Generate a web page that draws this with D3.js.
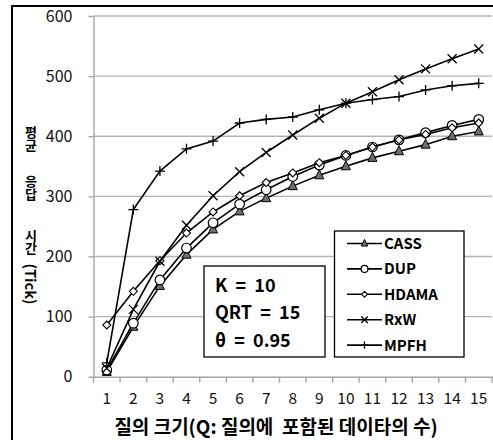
<!DOCTYPE html>
<html><head><meta charset="utf-8">
<script src="https://cdn.jsdelivr.net/npm/d3@7"></script>
<style>
html,body{margin:0;padding:0;background:#fff;}
svg{display:block;}
text{font-family:"Noto Sans CJK KR","Noto Sans",sans-serif;}
.vt{writing-mode:vertical-rl;text-orientation:upright;}
</style></head>
<body>
<svg id="chart" width="493" height="440"></svg>
<script>
const categories = [1,2,3,4,5,6,7,8,9,10,11,12,13,14,15];
const CASS  = [8, 83, 151, 203, 245, 275, 297, 317, 335, 350, 364, 375, 386, 400, 408];
const DUP   = [11, 89, 161, 214, 256, 287, 311, 333, 352, 368, 382, 394, 406, 418, 428];
const HDAMA = [86, 142, 193, 239, 274, 301, 323, 339, 356, 368, 382, 394, 403, 414, 422];
const RxW   = [14, 112, 192, 252, 301, 341, 373, 402, 430, 455, 474, 494, 512, 529, 545];
const MPFH  = [23, 278, 342, 379, 392, 422, 428, 432, 444, 455, 461, 466, 477, 484, 488];
const seriesNames = ["CASS","DUP","HDAMA","RxW","MPFH"];
const yTicks = [0,100,200,300,400,500,600];
const xTitle = "질의 크기(Q: 질의에  포함된 데이타의 수)";
const yTitleWords = ["평균","응답","시간"];
const yTitleUnit = "(Tick)";
const noteLines = ["K  =  10","QRT  =  15","θ  =  0.95"];

const series = [
  {name:"CASS", values:CASS, marker:"triangle"},
  {name:"DUP", values:DUP, marker:"circle"},
  {name:"HDAMA", values:HDAMA, marker:"diamond"},
  {name:"RxW", values:RxW, marker:"x"},
  {name:"MPFH", values:MPFH, marker:"plus"}
];

const svg = d3.select("#chart");
const pLeft = 93.5, pRight = 492, pTop = 16, pBottom = 376.7;

// outer border
svg.append("rect").attr("x",12).attr("y",6).attr("width",520).attr("height",480)
  .attr("fill","none").attr("stroke","#000").attr("stroke-width",2);

const x = d3.scaleBand().domain(categories).range([pLeft,pRight]);
const y = d3.scaleLinear().domain([0,600]).range([pBottom,pTop]);

// gridlines
svg.append("g").selectAll("line").data(yTicks.filter(d=>d>0)).join("line")
  .attr("x1",pLeft).attr("x2",pRight).attr("y1",d=>y(d)).attr("y2",d=>y(d))
  .attr("stroke","#b3b3b3").attr("stroke-width",1.4);

// y axis
const yAxis = svg.append("g").attr("transform",`translate(${pLeft},0)`)
  .call(d3.axisLeft(y).tickValues(yTicks).tickSize(5).tickPadding(16).tickSizeOuter(0));
yAxis.select(".domain").attr("stroke","#a6a6a6").attr("stroke-width",1.4);
yAxis.selectAll(".tick line").attr("stroke","#a6a6a6").attr("stroke-width",1.4);
yAxis.selectAll(".tick text").attr("font-size",16).attr("fill","#111")
  .attr("font-family","'Noto Sans CJK KR',sans-serif");

// x axis
const xAxis = svg.append("g").attr("transform",`translate(0,${pBottom})`)
  .call(d3.axisBottom(x).tickSize(0).tickPadding(16));
xAxis.select(".domain").attr("stroke","#a6a6a6").attr("stroke-width",1.4);
xAxis.selectAll(".tick text").attr("font-size",15.5).attr("fill","#111")
  .attr("font-family","'Noto Sans CJK KR',sans-serif");
// x tick marks at band boundaries
const bounds = categories.map(c=>x(c)).concat([x(categories[categories.length-1])+x.bandwidth()]);
svg.append("g").selectAll("line").data(bounds).join("line")
  .attr("x1",d=>d).attr("x2",d=>d).attr("y1",pBottom).attr("y2",pBottom+6)
  .attr("stroke","#a6a6a6").attr("stroke-width",1.4);

// axis titles
svg.append("text").attr("x",276).attr("y",434).attr("text-anchor","middle")
  .attr("font-size",19).attr("font-weight","bold")
  .attr("xml:space","preserve").style("white-space","pre").text(xTitle);

// y title: Korean words set vertically (upright), "(Tick)" rotated clockwise
const wordCenters = [139, 187.5, 241.5];
yTitleWords.forEach((w,i)=>{
  svg.append("text").attr("class","vt").attr("x",31).attr("y",wordCenters[i])
    .attr("text-anchor","middle")
    .attr("font-size",13).attr("font-weight","bold").text(w);
});
svg.append("text").attr("transform","translate(31,284) rotate(90)")
  .attr("text-anchor","middle").attr("dominant-baseline","central")
  .attr("font-size",14.5).attr("font-weight","bold").text(yTitleUnit);

// markers
function drawMarker(g, type, cx, cy, s){
  s = s || 1;
  if(type==="triangle"){
    g.append("path").attr("d",`M${cx},${cy-5.5*s}L${cx+4.5*s},${cy+3.5*s}L${cx-4.5*s},${cy+3.5*s}Z`)
      .attr("fill","#6e6e6e").attr("stroke","#000").attr("stroke-width",1);
  } else if(type==="circle"){
    g.append("circle").attr("cx",cx).attr("cy",cy).attr("r",4.8*s)
      .attr("fill","#fff").attr("stroke","#000").attr("stroke-width",1.2);
  } else if(type==="diamond"){
    g.append("path").attr("d",`M${cx},${cy-4*s}L${cx+4*s},${cy}L${cx},${cy+4*s}L${cx-4*s},${cy}Z`)
      .attr("fill","#fff").attr("stroke","#000").attr("stroke-width",1.1);
  } else if(type==="x"){
    g.append("path").attr("d",`M${cx-4.5*s},${cy-4.5*s}L${cx+4.5*s},${cy+4.5*s}M${cx-4.5*s},${cy+4.5*s}L${cx+4.5*s},${cy-4.5*s}`)
      .attr("stroke","#000").attr("stroke-width",1.3);
  } else if(type==="plus"){
    g.append("path").attr("d",`M${cx-5*s},${cy}L${cx+5*s},${cy}M${cx},${cy-5*s}L${cx},${cy+5*s}`)
      .attr("stroke","#000").attr("stroke-width",1.3);
  }
}

const line = d3.line().x((d,i)=>x(categories[i])+x.bandwidth()/2).y(d=>y(d));
series.forEach(s=>{
  const g = svg.append("g");
  g.append("path").datum(s.values).attr("d",line)
    .attr("fill","none").attr("stroke","#000").attr("stroke-width",1.6);
  s.values.forEach((v,i)=>drawMarker(g, s.marker, x(categories[i])+x.bandwidth()/2, y(v)));
});

// note box
svg.append("rect").attr("x",204).attr("y",266).attr("width",121).attr("height",91)
  .attr("fill","#fff").attr("stroke","#000").attr("stroke-width",1.3);
noteLines.forEach((t,i)=>{
  svg.append("text").attr("x",215).attr("y",291.5+i*27.5).attr("font-size",18)
    .attr("font-weight","bold").attr("xml:space","preserve").style("white-space","pre").text(t);
});

// legend
svg.append("rect").attr("x",334.5).attr("y",231).attr("width",129.5).attr("height",126)
  .attr("fill","#fff").attr("stroke","#000").attr("stroke-width",1.3);
series.forEach((s,i)=>{
  const cy = 243.5 + i*25.4;
  const g = svg.append("g");
  g.append("line").attr("x1",347).attr("x2",382).attr("y1",cy).attr("y2",cy)
    .attr("stroke","#000").attr("stroke-width",1.6);
  drawMarker(g, s.marker, 364.5, cy, 0.72);
  g.append("text").attr("x",384).attr("y",cy+5.5).attr("font-size",15)
    .attr("font-weight","bold").text(seriesNames[i]);
});
</script>
</body></html>
